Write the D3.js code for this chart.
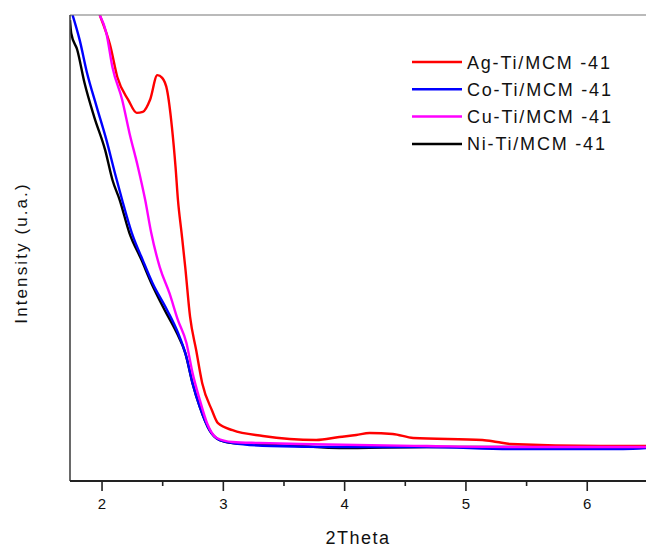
<!DOCTYPE html>
<html>
<head>
<meta charset="utf-8">
<script src="https://cdn.jsdelivr.net/npm/d3@7"></script>
<style>
  html, body { margin: 0; padding: 0; background: #fff; }
  svg { display: block; }
  text { font-family: Arial, "Liberation Sans", sans-serif; fill: #111; }
</style>
</head>
<body>
<svg id="chart" width="646" height="547"></svg>
<script>
// ---- data (2Theta, intensity in arbitrary units) ----
const seriesNames = ["Ag-Ti/MCM -41", "Co-Ti/MCM -41", "Cu-Ti/MCM -41", "Ni-Ti/MCM -41"];
const seriesColors = ["#ff0000", "#0000ff", "#ff00ff", "#000000"];

const agX = [1.985, 2.04, 2.07, 2.13, 2.22, 2.29, 2.34, 2.40, 2.46, 2.50, 2.54, 2.58, 2.61, 2.63, 2.66, 2.69, 2.73, 2.78, 2.83, 2.91, 2.96, 3.08, 3.33, 3.77, 3.96, 4.10, 4.21, 4.40, 4.57, 5.14, 5.26, 5.37, 6.11, 6.50];
const agY = [100, 96.1, 93.6, 86.7, 81.8, 79.0, 79.2, 81.8, 87.1, 86.5, 83.9, 76.0, 67.4, 60.3, 53.2, 45.9, 35.2, 28.1, 21.0, 15.2, 12.4, 10.9, 9.66, 8.8, 9.44, 9.87, 10.3, 10.1, 9.23, 8.8, 8.37, 7.94, 7.51, 7.51];

const coX = [1.754, 1.82, 1.88, 1.96, 2.04, 2.11, 2.17, 2.25, 2.34, 2.42, 2.54, 2.63, 2.70, 2.75, 2.81, 2.89, 2.97, 3.08, 3.40, 3.96, 4.68, 5.39, 6.30, 6.50];
const coY = [100.6, 94.6, 87.6, 80.3, 73.2, 66.1, 60.3, 53.2, 47.4, 42.5, 36.7, 31.8, 26.6, 21.0, 15.9, 10.9, 8.8, 8.15, 7.51, 7.30, 7.30, 6.87, 6.87, 7.08];

const cuX = [1.985, 2.04, 2.09, 2.17, 2.23, 2.30, 2.36, 2.41, 2.48, 2.56, 2.63, 2.70, 2.75, 2.81, 2.87, 2.95, 3.08, 3.30, 3.63, 4.68, 5.39, 6.50];
const cuY = [100, 96.1, 88.8, 81.8, 74.7, 67.4, 60.3, 53.2, 45.9, 40.3, 34.5, 29.6, 23.2, 17.4, 12.4, 9.23, 8.37, 8.15, 7.94, 7.51, 7.30, 7.30];

const niX = [1.74, 1.75, 1.80, 1.86, 1.94, 2.03, 2.09, 2.15, 2.23, 2.33, 2.41, 2.52, 2.62, 2.69, 2.75, 2.81, 2.89, 2.97, 3.08, 3.63, 3.96, 4.68, 6.50];
const niY = [98.9, 96.1, 92.5, 85.4, 78.1, 71.0, 64.6, 60.3, 53.2, 47.4, 42.5, 36.7, 31.8, 27.5, 21.0, 15.9, 10.9, 8.8, 8.15, 7.51, 7.08, 7.30, 7.30];

const xTicks = [2, 3, 4, 5, 6];
const xMinorTicks = [2.5, 3.5, 4.5, 5.5, 6.5];

// ---- layout ----
const svg = d3.select("#chart");
const mLeft = 70, mRight = 648, mTop = 15, mBottom = 481;

const x = d3.scaleLinear().domain([1.74, 6.505]).range([mLeft, mRight]);
const y = d3.scaleLinear().domain([0, 100]).range([mBottom, mTop]);

svg.append("defs").append("clipPath").attr("id", "clip")
  .append("rect").attr("x", mLeft).attr("y", mTop).attr("width", mRight - mLeft).attr("height", mBottom - mTop);

const series = [
  { name: seriesNames[3], color: seriesColors[3], xs: niX, ys: niY },
  { name: seriesNames[1], color: seriesColors[1], xs: coX, ys: coY },
  { name: seriesNames[0], color: seriesColors[0], xs: agX, ys: agY },
  { name: seriesNames[2], color: seriesColors[2], xs: cuX, ys: cuY }
];

const line = d3.line().x(d => x(d[0])).y(d => y(d[1])).curve(d3.curveMonotoneX);

const g = svg.append("g").attr("clip-path", "url(#clip)");
series.forEach(s => {
  g.append("path")
    .datum(s.xs.map((v, i) => [v, s.ys[i]]))
    .attr("fill", "none")
    .attr("stroke", s.color)
    .attr("stroke-width", 2.4)
    .attr("stroke-linejoin", "round")
    .attr("d", line);
});

// frame: top border
svg.append("line").attr("x1", mLeft).attr("x2", 646).attr("y1", mTop).attr("y2", mTop)
  .attr("stroke", "#777").attr("stroke-width", 1.2);
// left axis
svg.append("line").attr("x1", mLeft).attr("x2", mLeft).attr("y1", mTop).attr("y2", mBottom)
  .attr("stroke", "#444").attr("stroke-width", 1.6);

// bottom axis
const xAxis = d3.axisBottom(x).tickValues(xTicks).tickSize(10).tickSizeOuter(0).tickPadding(7)
  .tickFormat(d3.format("d"));
const ax = svg.append("g").attr("transform", `translate(0,${mBottom})`).call(xAxis);
ax.select(".domain").attr("stroke", "#222").attr("stroke-width", 2).attr("d", `M${mLeft},0H646`);
ax.selectAll(".tick line").attr("stroke", "#222").attr("stroke-width", 1.6);
ax.selectAll(".tick text").attr("font-size", 15).attr("font-family", "Arial, 'Liberation Sans', sans-serif")
  .attr("fill", "#111");

const axMinor = d3.axisBottom(x).tickValues(xMinorTicks).tickSize(5).tickFormat("");
const am = svg.append("g").attr("transform", `translate(0,${mBottom})`).call(axMinor);
am.select(".domain").remove();
am.selectAll(".tick line").attr("stroke", "#222").attr("stroke-width", 1.6);

// axis titles
svg.append("text").attr("x", 358).attr("y", 544).attr("text-anchor", "middle")
  .attr("font-size", 18).attr("letter-spacing", 1.5).text("2Theta");
svg.append("text").attr("transform", "translate(27,253) rotate(-90)").attr("text-anchor", "middle")
  .attr("font-size", 17).attr("letter-spacing", 2.1).text("Intensity (u.a.)");

// legend
const legendOrder = [0, 1, 2, 3];
const lg = svg.append("g");
legendOrder.forEach((k, i) => {
  const yy = 62 + i * 27.3;
  lg.append("line").attr("x1", 412).attr("x2", 462).attr("y1", yy).attr("y2", yy)
    .attr("stroke", seriesColors[k]).attr("stroke-width", 2.5);
  lg.append("text").attr("x", 467).attr("y", yy + 6.5).attr("font-size", 18)
    .attr("letter-spacing", 1.8).text(seriesNames[k]);
});
</script>
</body>
</html>
